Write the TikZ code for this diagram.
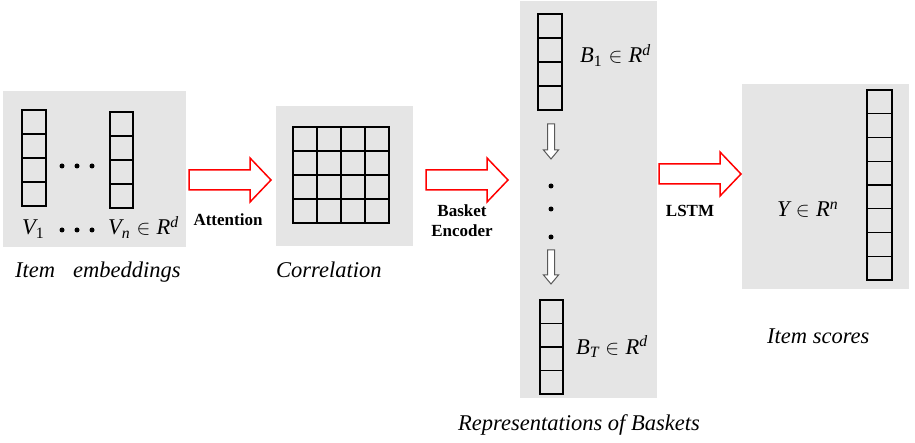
\documentclass[tikz,border=0pt]{standalone}
\usepackage{fontspec}
\setmainfont{Liberation Serif}
\usetikzlibrary{calc}

\tikzset{
  panel/.style={fill=black!10, draw=none, inner sep=0pt, anchor=north west},
  cell/.style={draw=black, line width=1.2pt},
  lbl/.style={font=\fontsize{22.5}{27}\selectfont\itshape, inner sep=0pt, anchor=base west},
  op/.style={font=\fontsize{17}{20}\selectfont\bfseries, inner sep=0pt, anchor=base, align=center},
  dot/.style={circle, fill=black, inner sep=0pt, minimum size=5pt},
  redarrow/.style={draw=red, line width=1.5pt, fill=white, line join=miter},
  downarrow/.style={draw=black!65, line width=1pt, fill=white},
}

\begin{document}
\begin{tikzpicture}[x=1pt, y=-1pt]
  \useasboundingbox (0,0) rectangle (915,443);
  % --- Gray panels ---
  \node[panel, minimum width=183pt, minimum height=156pt] (emb) at (3,91) {};
  \node[panel, minimum width=137pt, minimum height=140pt] (corr) at (276,106) {};
  \node[panel, minimum width=137pt, minimum height=397pt] (bask) at (520,1) {};
  \node[panel, minimum width=167pt, minimum height=205pt] (score) at (742,84) {};
  % --- Item embeddings: two columns of 4 cells ---
  \foreach \i in {0,...,3} {
    \draw[cell] (22,{110+24*\i}) rectangle ++(24,24);
    \draw[cell] (110,{112+24*\i}) rectangle ++(23,24);
  }
  \foreach \x [count=\k] in {62,77,92} {
    \node[dot] (mid\k) at (\x,166) {};
    \node[dot] (low\k) at (\x,230) {};
  }
  \node[lbl] (v1) at (22,235) {V\textsubscript{\upshape 1}};
  \node[lbl] (vn) at (108,235) {V\textsubscript{n}\;{\upshape$\in$}\;R\textsuperscript{d}};
  \node[lbl] (embtxt) at (15,278) {Item\hspace{18pt}embeddings};
  % --- Correlation: 4x4 grid ---
  \foreach \i in {0,...,3}
    \foreach \j in {0,...,3}
      \draw[cell] ({293+24*\i},{127+24*\j}) rectangle ++(24,24);
  \node[lbl] (corrtxt) at (276,278) {Correlation};
  % --- Representations of baskets ---
  \foreach \i in {0,...,3} {
    \draw[cell] (538,{14+24*\i}) rectangle ++(24,24);
    \draw[cell] (540,{300+23.5*\i}) rectangle ++(23,23.5);
  }
  \node[lbl] (b1) at (580,63) {B\textsubscript{\upshape 1}\;{\upshape$\in$}\;R\textsuperscript{d}};
  \node[lbl] (bt) at (576,354) {B\textsubscript{T}\;{\upshape$\in$}\;R\textsuperscript{d}};
  \foreach \y [count=\k] in {186,209,237}
    \node[dot] (vd\k) at (551,\y) {};
  \foreach \ya/\yb in {124/159, 250/284}
    \draw[downarrow] (547.5,\ya) -- (554.5,\ya) -- (554.5,\yb-9) -- (558.5,\yb-9)
      -- (551,\yb) -- (543.5,\yb-9) -- (547.5,\yb-9) -- cycle;
  \node[lbl] (basktxt) at (458,430) {Representations of Baskets};
  % --- Item scores: column of 8 cells ---
  \foreach \i in {0,...,7}
    \draw[cell] (867,{90+23.75*\i}) rectangle ++(25,23.75);
  \node[lbl] (y) at (777,217) {Y\;{\upshape$\in$}\;R\textsuperscript{n}};
  \node[lbl] (scoretxt) at (767,343) {Item scores};
  % --- Red block arrows ---
  \foreach \xa/\xb/\ya in {189/271/180, 426/508/180, 659/741/174}
    \draw[redarrow] (\xa,\ya-10) -- (\xb-21,\ya-10) -- (\xb-21,\ya-22) -- (\xb,\ya)
      -- (\xb-21,\ya+22) -- (\xb-21,\ya+10) -- (\xa,\ya+10) -- cycle;
  \node[op] (att) at (228,226) {Attention};
  \node[op] (enc) at (462,237) {Basket\\Encoder};
  \node[op] (lstm) at (690,217) {LSTM};
\end{tikzpicture}
\end{document}
